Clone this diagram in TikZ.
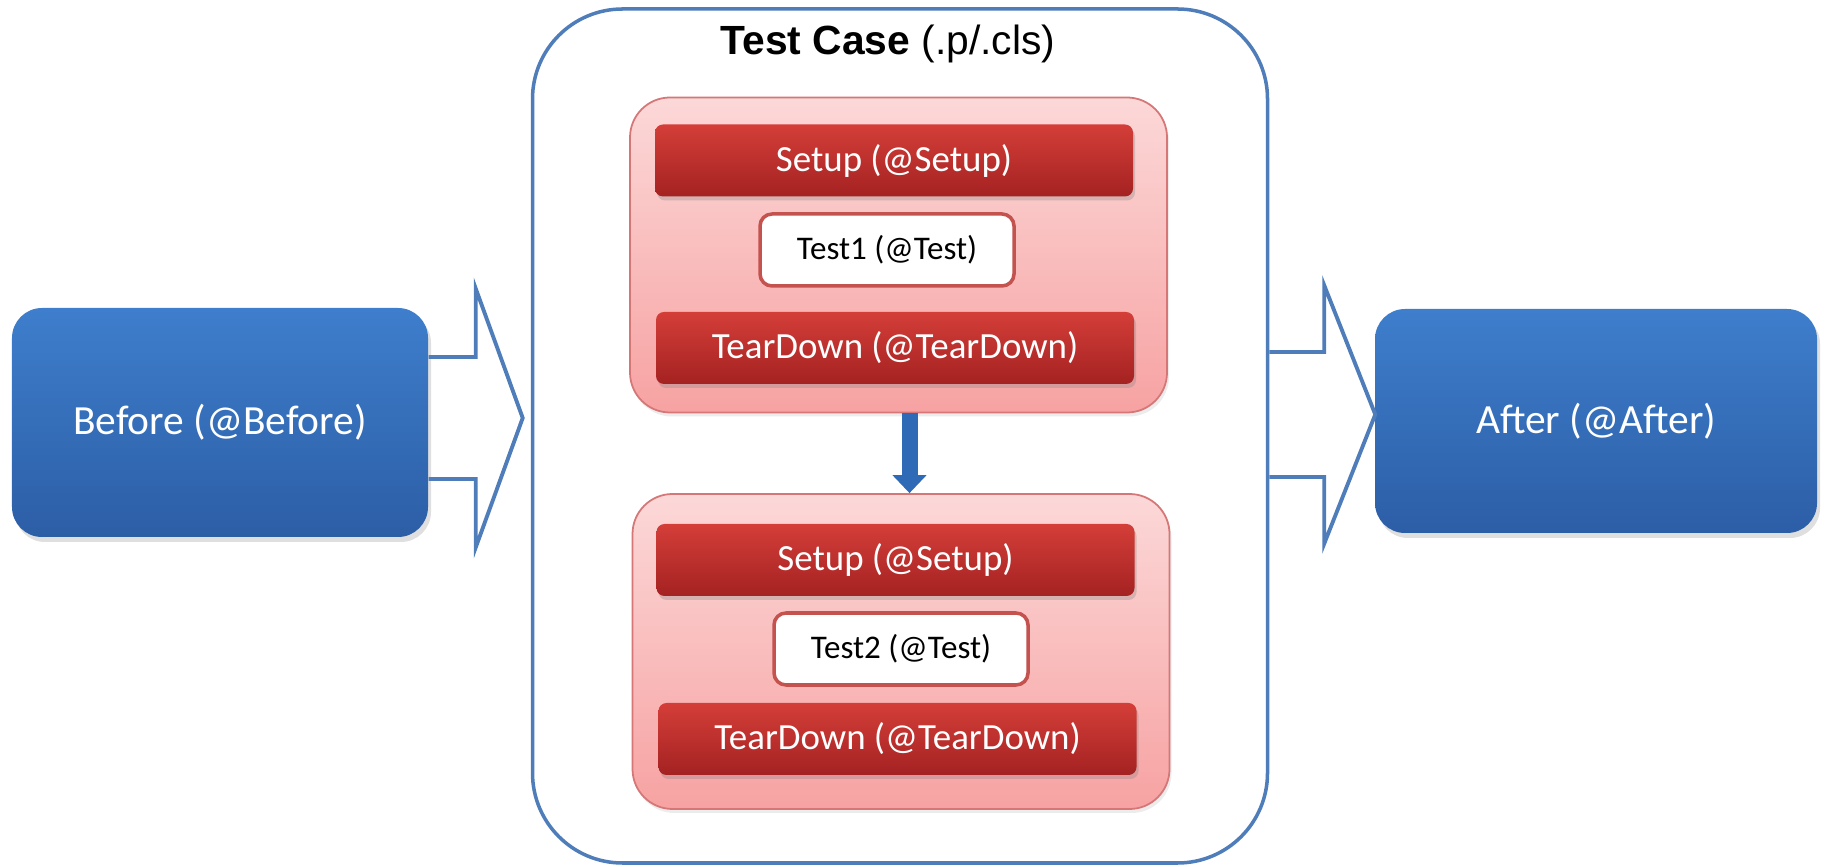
\documentclass[tikz,border=0pt]{standalone}
\usepackage{xcolor}
\usepackage{tikz}
\usepackage{fontspec}
\setmainfont{Carlito}
\newfontfamily\arialfont{Liberation Sans}
\usetikzlibrary{calc}
\usetikzlibrary{arrows.meta,shadows}

\definecolor{blueTop}{RGB}{62,126,204}
\definecolor{blueBot}{RGB}{44,94,166}
\definecolor{blueLine}{RGB}{79,125,185}
\definecolor{pinkTop}{RGB}{252,216,216}
\definecolor{pinkBot}{RGB}{247,162,162}
\definecolor{pinkLine}{RGB}{214,118,118}
\definecolor{redTop}{RGB}{212,62,56}
\definecolor{redBot}{RGB}{164,34,34}
\definecolor{redLine}{RGB}{196,82,78}
\definecolor{arrowBlue}{RGB}{46,106,182}

\begin{document}
\begin{tikzpicture}[
    bluebox/.style={rounded corners=0.3cm, inner sep=0pt, shading=axis, top color=blueTop, bottom color=blueBot, text=white, font=\fontsize{11.8}{14}\selectfont, drop shadow={opacity=0.25, shadow xshift=0.03cm, shadow yshift=-0.05cm}},
    casebox/.style={draw=blueLine, line width=1pt, rounded corners=0.9cm, fill=white, inner sep=0pt},
    pinkbox/.style={draw=pinkLine, line width=0.5pt, rounded corners=0.4cm, shading=axis, top color=pinkTop, bottom color=pinkBot, inner sep=0pt, minimum width=5.37cm, minimum height=3.15cm, drop shadow={opacity=0.15, shadow xshift=0.02cm, shadow yshift=-0.04cm}},
    redbar/.style={rounded corners=0.08cm, shading=axis, top color=redTop, bottom color=redBot, text=white, inner sep=0pt, minimum width=4.78cm, minimum height=0.72cm, font=\fontsize{10.5}{12}\selectfont, drop shadow={opacity=0.3, shadow xshift=0.02cm, shadow yshift=-0.04cm}},
    testbox/.style={draw=redLine, line width=1pt, rounded corners=0.12cm, fill=white, inner sep=0pt, minimum width=2.54cm, minimum height=0.72cm, font=\fontsize{9.4}{11}\selectfont},
    openarrow/.style={draw=blueLine, line width=1.1pt, line join=miter},
    downarrow/.style={draw=arrowBlue, line width=0.16cm, -{Triangle[width=3.3mm,length=1.8mm]}}
]
    \useasboundingbox (0,0) rectangle (18.25,-8.67);
    %TEST CASE
    \node[casebox, minimum width=7.35cm, minimum height=8.54cm] (case) at (9.00,-4.36) {};
    \node[font=\arialfont\fontsize{11.6}{14}\selectfont] (title) at (8.88,-0.44) {\textbf{Test Case} (.p/.cls)};
    %BEFORE AFTER
    \node[bluebox, minimum width=4.16cm, minimum height=2.29cm] (before) at (2.20,-4.225) {Before (@Before)};
    \node[bluebox, minimum width=4.42cm, minimum height=2.24cm] (after) at (15.96,-4.21) {After (@After)};
    %TEST 1
    \node[pinkbox] (loop1) at (8.985,-2.55) {};
    \node[redbar] (setup1) at (8.94,-1.605) {Setup (@Setup)};
    \node[testbox] (test1) at (8.87,-2.50) {Test1 (@Test)};
    \node[redbar] (tear1) at (8.95,-3.48) {TearDown (@TearDown)};
    %TEST 2
    \node[pinkbox] (loop2) at (9.01,-6.515) {};
    \node[redbar] (setup2) at (8.955,-5.60) {Setup (@Setup)};
    \node[testbox] (test2) at (9.01,-6.49) {Test2 (@Test)};
    \node[redbar] (tear2) at (8.975,-7.39) {TearDown (@TearDown)};
    %PANAH BAWAH
    \draw[downarrow] ([xshift=1.1mm]loop1.south) -- ([xshift=1.1mm]loop1.south |- loop2.north);
    %PANAH KIRI
    \draw[openarrow] ([yshift=6.55mm]before.east) -- ++(0.47,0) -- ++(0,0.685) -- ++(0.47,-1.295) -- ++(-0.47,-1.295) -- ++(0,0.685) -- ([yshift=-5.65mm]before.east);
    %PANAH KANAN
    \coordinate (kanan) at (after.west -| case.east);
    \draw[openarrow] ([yshift=6.9mm]kanan) -- ++(0.55,0) -- ++(0,0.665) -- ++(0.51,-1.29) -- ++(-0.51,-1.29) -- ++(0,0.665) -- ([yshift=-5.6mm]kanan);
\end{tikzpicture}
\end{document}
